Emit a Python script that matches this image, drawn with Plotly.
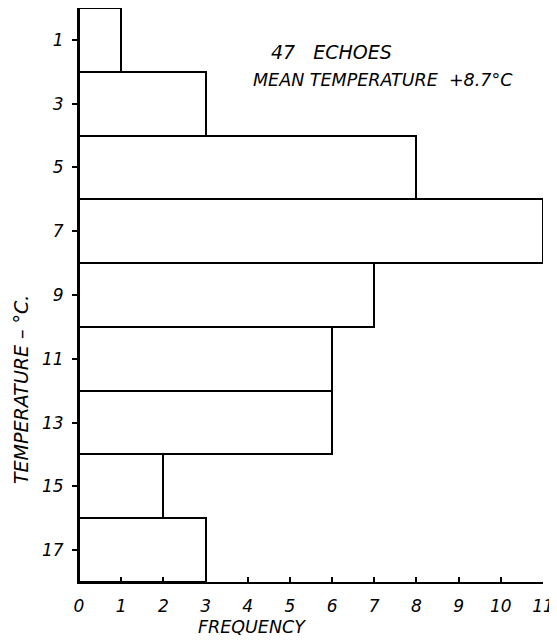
import plotly.graph_objects as go

temperature = [1, 3, 5, 7, 9, 11, 13, 15, 17]
frequency = [1, 3, 8, 11, 7, 6, 6, 2, 3]
x_ticks = list(range(0, 12))
y_ticks = [1, 3, 5, 7, 9, 11, 13, 15, 17]

font_family = "DejaVu Sans"
# page has an 8px body margin; figure is placed at (8, 8)
OFF = 8
W, H = 557 - OFF, 640 - OFF
PL, PR, PT, PB = 79, 543, 8, 582   # plot area in page pixels
L, R, T, B = PL - OFF, 557 - PR, PT - OFF, 640 - PB
PW, PH = PR - PL, PB - PT

def px(x):
    return (x - PL) / PW

def py(y):
    return 1 - (y - PT) / PH

fig = go.Figure()
fig.add_trace(go.Bar(
    y=temperature, x=frequency, orientation="h", width=2,
    marker=dict(color="white", line=dict(color="black", width=2)),
    cliponaxis=False, showlegend=False,
))

fig.update_layout(
    width=W, height=H,
    margin=dict(l=L, r=R, t=T, b=B, autoexpand=False),
    paper_bgcolor="white", plot_bgcolor="white",
    font=dict(family=font_family, size=16, color="black", style="italic"),
    bargap=0,
    xaxis=dict(range=[0, 11], tickvals=x_ticks, ticks="inside", ticklen=5,
               tickwidth=1.5, tickcolor="black", showline=True, linecolor="black",
               linewidth=2, showgrid=False, zeroline=False, automargin=False,
               ticklabelstandoff=8,
               tickfont=dict(size=17, style="italic", color="black")),
    yaxis=dict(range=[18, 0], tickvals=y_ticks, ticks="outside", ticklen=5,
               tickwidth=1.5, tickcolor="black", showline=True, linecolor="black",
               linewidth=2, showgrid=False, zeroline=False, automargin=False,
               ticklabelstandoff=5,
               tickfont=dict(size=17, style="italic", color="black")),
    annotations=[
        dict(text="47   ECHOES", xref="paper", yref="paper", x=px(331), y=py(52),
             showarrow=False, font=dict(size=19, style="italic", color="black"),
             xanchor="center", yanchor="middle"),
        dict(text="MEAN TEMPERATURE  +8.7°C", xref="paper", yref="paper", x=px(383),
             y=py(80), showarrow=False, font=dict(size=17.5, style="italic", color="black"),
             xanchor="center", yanchor="middle"),
        dict(text="FREQUENCY", xref="paper", yref="paper", x=px(252), y=py(627),
             showarrow=False, font=dict(size=17.5, style="italic", color="black"),
             xanchor="center", yanchor="middle"),
        dict(text="TEMPERATURE – °C.", xref="paper", yref="paper", x=px(21),
             y=py(390), textangle=-90, showarrow=False,
             font=dict(size=19, style="italic", color="black"),
             xanchor="center", yanchor="middle"),
    ],
)

fig.write_html("out.html")
